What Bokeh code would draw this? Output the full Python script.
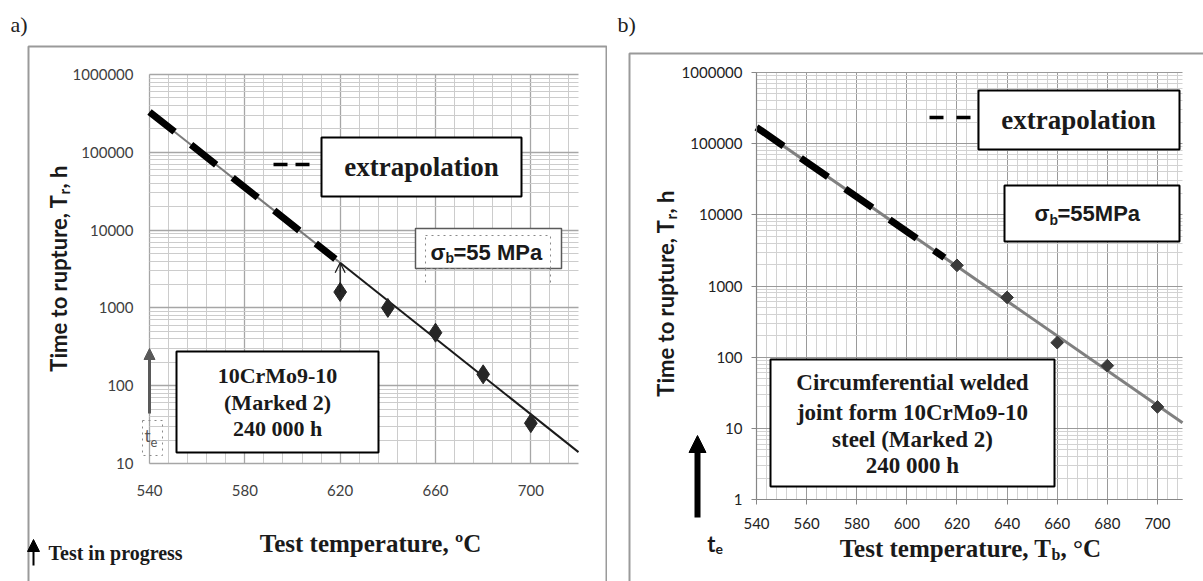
import math
from bokeh.plotting import figure
from bokeh.models import (FixedTicker, Label, BoxAnnotation, Arrow, NormalHead, OpenHead, Grid)
from bokeh.layouts import row
from bokeh.embed import file_html
from bokeh.resources import INLINE

# ---------------- data: panel a) ----------------
a_x_ticks = [540, 580, 620, 660, 700]
a_x_labels = ["540", "580", "620", "660", "700"]
a_y_ticks = [10, 100, 1000, 10000, 100000, 1000000]
a_y_labels = ["10", "100", "1000", "10000", "100000", "1000000"]
a_temps = [620, 640, 660, 680, 700]
a_times = [1600, 1000, 480, 140, 33]
a_fit_temp = [620, 720]
a_fit_time = [3800, 14]
a_grey_temp = [540, 620]
a_grey_time = [330000, 3800]
a_ext_temp = [540, 618]
a_ext_time = [330000, 4250]
a_progress_temp = [620]
a_progress_from = [1600]
a_progress_to = [3800]

# ---------------- data: panel b) ----------------
b_x_ticks = [540, 560, 580, 600, 620, 640, 660, 680, 700]
b_x_labels = ["540", "560", "580", "600", "620", "640", "660", "680", "700"]
b_y_ticks = [1, 10, 100, 1000, 10000, 100000, 1000000]
b_y_labels = ["1", "10", "100", "1000", "10000", "100000", "1000000"]
b_temps = [620, 640, 660, 680, 700]
b_times = [1950, 690, 160, 76, 20]
b_fit_temp = [540, 710]
b_fit_time = [170000, 12]
b_ext_temp = [540, 615]
b_ext_time = [170000, 2500]

SERIF = "Liberation Serif"
SANS = "Liberation Sans"
CAL = "Lato"
H = 581

# plot areas in page pixels (l, t, r, b) and the data they span
A = dict(off=0, w=607, l=149, t=74, r=578, b=463, x0=540, x1=720, y0=10, y1=1000000)
B = dict(off=607, w=596, l=756, t=72, r=1182, b=499, x0=540, x1=710, y0=1, y1=1000000)


def make_fig(fr):
    # whole canvas is the frame; ranges are stretched so the plot area lands at l..r / t..b
    kx = (fr["r"] - fr["l"]) / (fr["x1"] - fr["x0"])
    xs = fr["x0"] - (fr["l"] - fr["off"]) / kx
    xe = fr["x0"] + (fr["off"] + fr["w"] - fr["l"]) / kx
    ly0, ly1 = math.log10(fr["y0"]), math.log10(fr["y1"])
    ky = (fr["b"] - fr["t"]) / (ly1 - ly0)
    ys = 10 ** (ly0 - (H - fr["b"]) / ky)
    ye = 10 ** (ly1 + fr["t"] / ky)
    p = figure(width=fr["w"], height=H, x_range=(xs, xe), y_range=(ys, ye), y_axis_type="log",
               output_backend="svg", toolbar_location=None, min_border=0)
    p.frame_align = False
    p.outline_line_color = None
    p.background_fill_color = "white"
    p.border_fill_color = "white"
    p.xaxis.fixed_location = fr["y0"]
    p.yaxis.fixed_location = fr["x0"]
    p.xaxis.bounds = (fr["x0"], fr["x1"])
    p.yaxis.bounds = (fr["y0"], fr["y1"])
    return p


def minor_log(lo, hi):
    out = []
    e = int(round(math.log10(lo)))
    while 10 ** e < hi:
        for k in range(2, 10):
            out.append(k * 10 ** e)
        e += 1
    return out


HAS_CROSS = "cross_bounds" in Grid.properties()


def setup_grid(p, fr, xt, yt, major, minor, mw):
    for g, t, b, cb in ((p.xgrid, xt, (fr["x0"], fr["x1"]), (fr["y0"], fr["y1"])),
                        (p.ygrid, yt, (fr["y0"], fr["y1"]), (fr["x0"], fr["x1"]))):
        g.ticker = t
        if HAS_CROSS:
            g.bounds = b
            g.cross_bounds = cb
            g.grid_line_color = major
            g.grid_line_width = mw
            g.minor_grid_line_color = minor
            g.minor_grid_line_width = 1
        else:
            g.grid_line_color = None
    if not HAS_CROSS:
        for ticks, col, wd in ((xt.minor_ticks, minor, 1), (xt.ticks, major, mw)):
            tt = [v for v in ticks if fr["x0"] <= v <= fr["x1"]]
            p.segment(tt, [fr["y0"]] * len(tt), tt, [fr["y1"]] * len(tt), line_color=col,
                      line_width=wd, level="underlay")
        for ticks, col, wd in ((yt.minor_ticks, minor, 1), (yt.ticks, major, mw)):
            tt = [v for v in ticks if fr["y0"] <= v <= fr["y1"]]
            p.segment([fr["x0"]] * len(tt), tt, [fr["x1"]] * len(tt), tt, line_color=col,
                      line_width=wd, level="underlay")


def lab(p, fr, cx, cy, text, font, size, bold=True, align="center", color="#1a1a1a", angle=0.0):
    p.add_layout(Label(x=cx - fr["off"], y=H - cy, x_units="screen", y_units="screen",
                       text=text, text_font=font, text_font_size=f"{size}px",
                       text_font_style="bold" if bold else "normal", text_align=align,
                       text_baseline="middle", text_color=color, angle=angle))


def box(p, fr, x0, y0, x1, y1, color="black", width=2.0, dash="solid", fill=True):
    p.add_layout(BoxAnnotation(left=x0 - fr["off"], right=x1 - fr["off"],
                               top=H - y0, bottom=H - y1,
                               left_units="screen", right_units="screen",
                               top_units="screen", bottom_units="screen",
                               fill_color="white", fill_alpha=1.0 if fill else 0.0,
                               line_color=color, line_alpha=1.0, line_width=width,
                               line_dash=dash))


def seg(p, fr, x0, y0, x1, y1, dash, width, color="black"):
    p.add_layout(Arrow(end=None, x_start=x0 - fr["off"], y_start=H - y0,
                       x_end=x1 - fr["off"], y_end=H - y1,
                       start_units="screen", end_units="screen",
                       line_color=color, line_width=width, line_dash=dash))


def arrow(p, fr, x, y0, y1, head_len, width, color):
    sx = x - fr["off"]
    p.add_layout(Arrow(end=None, x_start=sx, y_start=H - y0, x_end=sx,
                       y_end=H - (y1 + head_len * 0.8),
                       start_units="screen", end_units="screen",
                       line_color=color, line_width=width))
    p.add_layout(Arrow(end=NormalHead(size=head_len, fill_color=color, line_color=color,
                                      line_width=1),
                       x_start=sx, y_start=H - (y1 + head_len + 2), x_end=sx, y_end=H - y1,
                       start_units="screen", end_units="screen", line_alpha=0.0, line_width=1))


# ======================= panel a =======================
p1 = make_fig(A)
ta_x = FixedTicker(ticks=a_x_ticks, minor_ticks=list(range(540, 721, 8)))
ta_y = FixedTicker(ticks=a_y_ticks, minor_ticks=minor_log(10, 1000000))
p1.xaxis.ticker = ta_x
p1.yaxis.ticker = ta_y
setup_grid(p1, A, ta_x, ta_y, "#a6a6a6", "#cccccc", 1.3)
p1.xaxis.major_label_overrides = dict(zip(a_x_ticks, a_x_labels))
p1.yaxis.major_label_overrides = dict(zip(a_y_ticks, a_y_labels))
for ax in (p1.xaxis, p1.yaxis):
    ax.axis_line_color = None
    ax.major_tick_line_color = None
    ax.minor_tick_line_color = None
    ax.major_label_text_font = CAL
    ax.major_label_text_font_size = "15px"
    ax.major_label_text_color = "#404040"
p1.yaxis.major_label_standoff = 10
p1.xaxis.major_label_standoff = 15

p1.line(a_grey_temp, a_grey_time, line_color="#7a7a7a", line_width=2)
p1.line(a_fit_temp, a_fit_time, line_color="#1a1a1a", line_width=2)
p1.line(a_ext_temp, a_ext_time, line_color="black", line_width=7, line_dash="32 21")
p1.scatter(a_temps, a_times, marker="diamond", size=19, fill_color="#262626",
           line_color="#262626")
for t, y0, y1 in zip(a_progress_temp, a_progress_from, a_progress_to):
    p1.add_layout(Arrow(end=OpenHead(size=10, line_color="#1a1a1a", line_width=1.3),
                        x_start=t, y_start=y0, x_end=t, y_end=y1,
                        line_color="#1a1a1a", line_width=1.3))

box(p1, A, 28, 46, 606, 600, color="#9a9a9a", width=2, fill=False)
lab(p1, A, 10, 24, "a)", SERIF, 22, bold=False, align="left", color="#222222")

box(p1, A, 321, 137, 521, 196)
lab(p1, A, 421, 166, "extrapolation", SERIF, 27)
seg(p1, A, 273, 164, 310, 164, "14 8", 3.5)

box(p1, A, 415, 228, 561, 268, color="#5a5a5a", width=1.5)
box(p1, A, 425, 235, 550, 268, color="#8a8a8a", width=1, dash="dotted", fill=False)
seg(p1, A, 425, 268, 425, 282, "dotted", 1, "#8a8a8a")
seg(p1, A, 550, 268, 550, 282, "dotted", 1, "#8a8a8a")
lab(p1, A, 445, 252, "σ", SANS, 22, align="right")
lab(p1, A, 445, 257, "b", SANS, 14, align="left")
lab(p1, A, 453, 252, "=55 MPa", SANS, 22, align="left")

box(p1, A, 176, 351, 378, 452)
for yy, txt in zip([375, 402, 428], ["10CrMo9-10", "(Marked 2)", "240 000 h"]):
    lab(p1, A, 277, yy, txt, SERIF, 22)

arrow(p1, A, 149, 413, 348, 11, 3, "#595959")
box(p1, A, 142, 420, 162, 455, color="#8a8a8a", width=1, dash="dotted", fill=False)
lab(p1, A, 150, 435, "t", CAL, 17, bold=False, align="right", color="#555555")
lab(p1, A, 150, 441, "e", CAL, 13, bold=False, align="left", color="#555555")

lab(p1, A, 58, 194, "Time to rupture, T", CAL, 22, align="right", angle=math.pi / 2)
lab(p1, A, 63, 194, "r", CAL, 15, align="left", angle=math.pi / 2)
lab(p1, A, 58, 188, ", h", CAL, 22, align="left", angle=math.pi / 2)
lab(p1, A, 370, 543, "Test temperature, ºC", SERIF, 25)

arrow(p1, A, 33, 565, 539, 12, 2, "black")
lab(p1, A, 48, 552, "Test in progress", SERIF, 20, align="left")

# ======================= panel b =======================
p2 = make_fig(B)
tb_x = FixedTicker(ticks=b_x_ticks, minor_ticks=list(range(540, 711, 4)))
tb_y = FixedTicker(ticks=b_y_ticks, minor_ticks=minor_log(1, 1000000))
p2.xaxis.ticker = tb_x
p2.yaxis.ticker = tb_y
setup_grid(p2, B, tb_x, tb_y, "#9a9a9a", "#d2d2d2", 1)
p2.xaxis.major_label_overrides = dict(zip(b_x_ticks, b_x_labels))
p2.yaxis.major_label_overrides = dict(zip(b_y_ticks, b_y_labels))
for ax in (p2.xaxis, p2.yaxis):
    ax.axis_line_color = "#868686"
    ax.axis_line_width = 1.2
    ax.major_tick_line_color = "#868686"
    ax.major_tick_in = 0
    ax.major_tick_out = 5
    ax.minor_tick_line_color = None
    ax.major_label_text_font = CAL
    ax.major_label_text_font_size = "15px"
    ax.major_label_text_color = "#222222"
p2.yaxis.major_label_standoff = 9
p2.xaxis.major_label_standoff = 13

p2.line(b_fit_temp, b_fit_time, line_color="#808080", line_width=3)
p2.line(b_ext_temp, b_ext_time, line_color="black", line_width=7, line_dash="33 21")
p2.scatter(b_temps, b_times, marker="square", angle=math.pi / 4, size=9,
           fill_color="#3a3a3a", line_color="#3a3a3a")

box(p2, B, 629, 53, 1215, 600, color="#9a9a9a", width=2, fill=False)
lab(p2, B, 617, 24, "b)", SERIF, 22, bold=False, align="left", color="#222222")

box(p2, B, 978, 90, 1179, 149)
lab(p2, B, 1078, 119, "extrapolation", SERIF, 27)
seg(p2, B, 929, 117, 972, 117, "14 13", 3.5)

box(p2, B, 1004, 185, 1179, 241)
lab(p2, B, 1049, 213, "σ", SANS, 22, align="right")
lab(p2, B, 1049, 219, "b", SANS, 14, align="left")
lab(p2, B, 1057, 213, "=55MPa", SANS, 22, align="left")

box(p2, B, 770, 359, 1054, 486)
for yy, txt in zip([382, 412, 439, 465],
                   ["Circumferential welded", "joint form 10CrMo9-10", "steel (Marked 2)",
                    "240 000 h"]):
    lab(p2, B, 912, yy, txt, SERIF, 23)

arrow(p2, B, 697, 517, 435, 17, 6, "black")
lab(p2, B, 715, 543, "t", CAL, 22, align="right")
lab(p2, B, 715, 548, "e", CAL, 14, align="left")

lab(p2, B, 665, 219, "Time to rupture, T", CAL, 22, align="right", angle=math.pi / 2)
lab(p2, B, 670, 219, "r", CAL, 15, align="left", angle=math.pi / 2)
lab(p2, B, 665, 213, ", h", CAL, 22, align="left", angle=math.pi / 2)

lab(p2, B, 1051, 548, "Test temperature, T", SERIF, 25, align="right")
lab(p2, B, 1051, 554, "b", SERIF, 16, align="left")
lab(p2, B, 1060, 548, ", °C", SERIF, 25, align="left")

layout = row(p1, p2)
open("out.html", "w").write(file_html(layout, INLINE))
